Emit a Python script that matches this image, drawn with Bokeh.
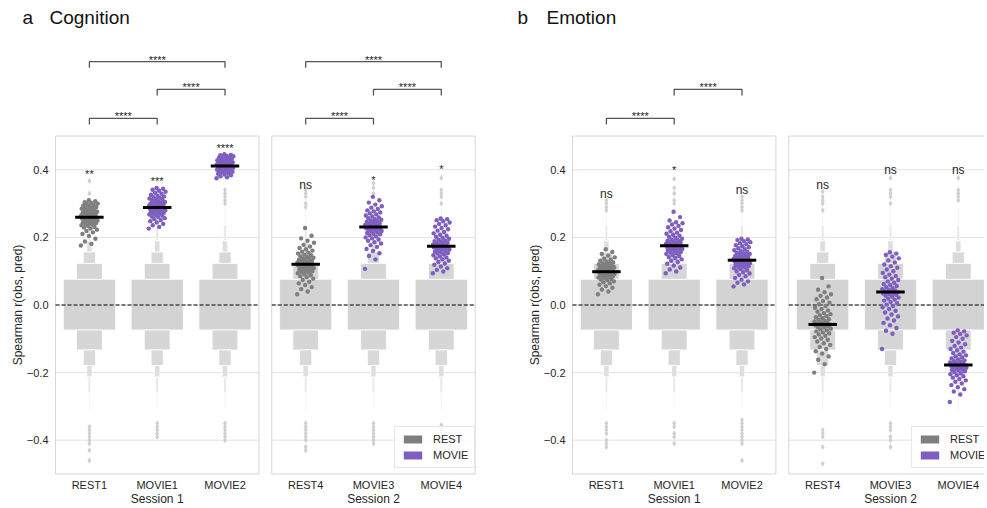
import numpy as np
from bokeh.plotting import figure
from bokeh.models import Range1d, Legend, LegendItem
from bokeh.layouts import row
from bokeh.embed import file_html
from bokeh.resources import INLINE
from bokeh.core.properties import value

# ---------------- data ----------------
session1_labels = ["REST1", "MOVIE1", "MOVIE2"]
session2_labels = ["REST4", "MOVIE3", "MOVIE4"]
condition_kind = ["REST", "MOVIE", "MOVIE", "REST", "MOVIE", "MOVIE"]
session_names = ["Session 1", "Session 2"]
y_ticks = [-0.4, -0.2, 0.0, 0.2, 0.4]
y_tick_labels = ["\u22120.4", "\u22120.2", "0.0", "0.2", "0.4"]

# Cognition: observed Spearman r per subject
cog_rest1 = [0.176, 0.181, 0.188, 0.196, 0.204, 0.21, 0.215, 0.219, 0.223, 0.226, 0.229, 0.231, 0.234, 0.236,
             0.238, 0.24, 0.242, 0.244, 0.245, 0.247, 0.248, 0.25, 0.251, 0.252, 0.254, 0.255, 0.256, 0.257,
             0.258, 0.259, 0.26, 0.261, 0.262, 0.264, 0.265, 0.266, 0.268, 0.269, 0.27, 0.272, 0.273, 0.275,
             0.276, 0.278, 0.28, 0.281, 0.283, 0.285, 0.287, 0.288, 0.29, 0.292, 0.294, 0.296, 0.298, 0.3,
             0.302, 0.304, 0.307, 0.31]
cog_movie1 = [0.226, 0.231, 0.236, 0.24, 0.244, 0.248, 0.251, 0.254, 0.257, 0.26, 0.262, 0.264, 0.266, 0.268,
              0.27, 0.272, 0.273, 0.275, 0.276, 0.278, 0.279, 0.28, 0.281, 0.282, 0.283, 0.284, 0.285, 0.286,
              0.287, 0.288, 0.289, 0.29, 0.291, 0.292, 0.293, 0.295, 0.296, 0.297, 0.299, 0.3, 0.302, 0.303,
              0.305, 0.307, 0.309, 0.311, 0.313, 0.315, 0.317, 0.319, 0.321, 0.323, 0.326, 0.329, 0.332, 0.335,
              0.338, 0.341, 0.344, 0.346]
cog_movie2 = [0.375, 0.378, 0.381, 0.384, 0.386, 0.388, 0.39, 0.392, 0.394, 0.395, 0.396, 0.398, 0.399, 0.4,
              0.401, 0.402, 0.403, 0.404, 0.404, 0.405, 0.406, 0.406, 0.407, 0.408, 0.408, 0.409, 0.41, 0.41,
              0.411, 0.411, 0.412, 0.413, 0.413, 0.414, 0.415, 0.415, 0.416, 0.417, 0.418, 0.419, 0.42, 0.421,
              0.422, 0.423, 0.424, 0.425, 0.426, 0.428, 0.429, 0.43, 0.432, 0.433, 0.435, 0.436, 0.438, 0.44,
              0.441, 0.443, 0.444, 0.446]
cog_rest4 = [0.032, 0.04, 0.047, 0.053, 0.059, 0.064, 0.069, 0.074, 0.078, 0.082, 0.085, 0.088, 0.091, 0.094,
             0.096, 0.098, 0.1, 0.102, 0.104, 0.106, 0.108, 0.109, 0.111, 0.112, 0.114, 0.115, 0.116, 0.117,
             0.119, 0.12, 0.121, 0.122, 0.124, 0.125, 0.126, 0.128, 0.129, 0.131, 0.133, 0.134, 0.136, 0.138,
             0.14, 0.142, 0.144, 0.147, 0.149, 0.152, 0.155, 0.158, 0.161, 0.165, 0.169, 0.173, 0.178, 0.184,
             0.19, 0.197, 0.205, 0.228]
cog_movie3 = [0.107, 0.135, 0.145, 0.153, 0.16, 0.166, 0.172, 0.177, 0.182, 0.186, 0.19, 0.194, 0.197, 0.2,
              0.203, 0.206, 0.209, 0.211, 0.213, 0.215, 0.217, 0.219, 0.221, 0.223, 0.224, 0.226, 0.227, 0.228,
              0.229, 0.23, 0.231, 0.232, 0.234, 0.235, 0.237, 0.238, 0.24, 0.242, 0.244, 0.246, 0.248, 0.25,
              0.252, 0.254, 0.257, 0.259, 0.262, 0.265, 0.268, 0.271, 0.274, 0.277, 0.28, 0.284, 0.288, 0.292,
              0.297, 0.303, 0.31, 0.32]
cog_movie4 = [0.094, 0.099, 0.104, 0.109, 0.114, 0.119, 0.123, 0.127, 0.131, 0.135, 0.138, 0.141, 0.144, 0.147,
              0.15, 0.152, 0.154, 0.156, 0.158, 0.16, 0.162, 0.164, 0.166, 0.167, 0.168, 0.169, 0.17, 0.171,
              0.172, 0.173, 0.174, 0.175, 0.176, 0.178, 0.179, 0.181, 0.183, 0.185, 0.187, 0.189, 0.191, 0.193,
              0.196, 0.199, 0.202, 0.205, 0.208, 0.212, 0.216, 0.22, 0.224, 0.228, 0.232, 0.236, 0.24, 0.244,
              0.248, 0.251, 0.254, 0.256]

# Emotion: observed Spearman r per subject
emo_rest1 = [0.032, 0.04, 0.046, 0.051, 0.056, 0.06, 0.064, 0.067, 0.07, 0.073, 0.075, 0.077, 0.079, 0.081,
             0.083, 0.085, 0.086, 0.087, 0.089, 0.09, 0.091, 0.092, 0.093, 0.094, 0.095, 0.096, 0.097, 0.097,
             0.098, 0.098, 0.099, 0.1, 0.101, 0.102, 0.103, 0.104, 0.105, 0.106, 0.107, 0.108, 0.11, 0.111,
             0.112, 0.114, 0.115, 0.117, 0.118, 0.12, 0.122, 0.124, 0.126, 0.128, 0.131, 0.134, 0.137, 0.141,
             0.146, 0.151, 0.157, 0.165]
emo_movie1 = [0.094, 0.099, 0.105, 0.111, 0.117, 0.122, 0.127, 0.131, 0.135, 0.139, 0.142, 0.145, 0.148, 0.151,
              0.153, 0.155, 0.157, 0.159, 0.161, 0.163, 0.165, 0.166, 0.168, 0.169, 0.17, 0.171, 0.172, 0.173,
              0.174, 0.175, 0.176, 0.177, 0.178, 0.18, 0.181, 0.183, 0.184, 0.186, 0.188, 0.19, 0.192, 0.194,
              0.196, 0.199, 0.202, 0.205, 0.208, 0.211, 0.214, 0.218, 0.222, 0.226, 0.23, 0.234, 0.238, 0.242,
              0.245, 0.25, 0.26, 0.276]
emo_movie2 = [0.055, 0.061, 0.066, 0.07, 0.075, 0.08, 0.085, 0.089, 0.093, 0.097, 0.1, 0.103, 0.106, 0.109,
              0.111, 0.113, 0.115, 0.117, 0.119, 0.121, 0.122, 0.124, 0.125, 0.126, 0.127, 0.128, 0.129, 0.13,
              0.131, 0.132, 0.133, 0.134, 0.135, 0.136, 0.137, 0.139, 0.14, 0.142, 0.143, 0.145, 0.147, 0.149,
              0.151, 0.153, 0.155, 0.157, 0.159, 0.162, 0.165, 0.168, 0.171, 0.174, 0.177, 0.18, 0.183, 0.186,
              0.189, 0.192, 0.194, 0.196]
emo_rest4 = [-0.2, -0.175, -0.162, -0.152, -0.144, -0.137, -0.13, -0.124, -0.118, -0.113, -0.108, -0.103,
             -0.099, -0.095, -0.091, -0.087, -0.084, -0.081, -0.078, -0.075, -0.072, -0.07, -0.067, -0.065,
             -0.063, -0.061, -0.06, -0.059, -0.058, -0.058, -0.057, -0.055, -0.053, -0.051, -0.049, -0.047,
             -0.044, -0.042, -0.039, -0.036, -0.033, -0.03, -0.027, -0.024, -0.02, -0.016, -0.012, -0.008,
             -0.003, 0.002, 0.007, 0.012, 0.017, 0.022, 0.027, 0.032, 0.038, 0.045, 0.055, 0.08]
emo_movie3 = [-0.13, -0.085, -0.076, -0.068, -0.06, -0.053, -0.046, -0.04, -0.034, -0.028, -0.022, -0.017,
              -0.012, -0.007, -0.003, 0.001, 0.005, 0.009, 0.013, 0.016, 0.019, 0.022, 0.025, 0.028, 0.03,
              0.032, 0.034, 0.036, 0.037, 0.038, 0.039, 0.041, 0.043, 0.045, 0.047, 0.05, 0.053, 0.056, 0.059,
              0.062, 0.066, 0.07, 0.074, 0.078, 0.082, 0.086, 0.09, 0.095, 0.1, 0.105, 0.11, 0.115, 0.12,
              0.126, 0.132, 0.138, 0.143, 0.148, 0.152, 0.156]
emo_movie4 = [-0.287, -0.265, -0.256, -0.249, -0.243, -0.237, -0.232, -0.227, -0.223, -0.219, -0.215, -0.211,
              -0.208, -0.205, -0.202, -0.199, -0.196, -0.194, -0.192, -0.19, -0.188, -0.186, -0.184, -0.183,
              -0.182, -0.181, -0.18, -0.179, -0.178, -0.178, -0.177, -0.176, -0.174, -0.172, -0.17, -0.168,
              -0.166, -0.164, -0.161, -0.158, -0.155, -0.152, -0.149, -0.146, -0.142, -0.138, -0.134, -0.13,
              -0.126, -0.121, -0.116, -0.111, -0.106, -0.1, -0.095, -0.09, -0.086, -0.082, -0.078, -0.075]

# Null distribution (permutation) letter-value boundaries, shared by all conditions
boxen_upper = [0.076, 0.123, 0.157, 0.19, 0.235, 0.29]
boxen_lower = [-0.074, -0.133, -0.179, -0.213, -0.26, -0.31]

# Null distribution outliers per condition
cog_rest1_out = [0.367, 0.33, 0.31, -0.36, -0.37, -0.38, -0.39, -0.40, -0.41, -0.43, -0.46]
cog_movie1_out = [0.33, 0.31, -0.35, -0.36, -0.37, -0.38, -0.39]
cog_movie2_out = [0.34, 0.33, 0.32, 0.31, 0.30, -0.35, -0.36, -0.37, -0.38, -0.39, -0.40]
cog_rest4_out = [0.34, 0.33, 0.32, 0.30, 0.29, -0.35, -0.36, -0.37, -0.38, -0.39, -0.40, -0.42, -0.43]
cog_movie3_out = [0.36, 0.347, 0.33, -0.35, -0.36, -0.37, -0.38, -0.39, -0.40, -0.41]
cog_movie4_out = [0.376, 0.34, 0.33, 0.32, 0.30, -0.355, -0.37]
emo_rest1_out = [0.31, 0.30, 0.29, 0.28, -0.35, -0.36, -0.37, -0.38, -0.40, -0.41, -0.42]
emo_movie1_out = [0.373, 0.346, 0.33, 0.31, 0.30, -0.35, -0.36, -0.38, -0.39, -0.41]
emo_movie2_out = [0.32, 0.31, 0.30, 0.29, 0.28, -0.34, -0.35, -0.36, -0.37, -0.38, -0.39, -0.40, -0.41, -0.46]
emo_rest4_out = [0.336, 0.32, 0.31, 0.30, 0.28, -0.37, -0.38, -0.39, -0.42, -0.47]
emo_movie3_out = [0.376, 0.34, 0.33, 0.32, 0.30, -0.35, -0.36, -0.37, -0.39, -0.40, -0.42]
emo_movie4_out = [0.376, 0.34, 0.33, 0.32, 0.31, -0.39]

cog_sig = ["**", "***", "****", "ns", "*", "*"]
emo_sig = ["ns", "*", "ns", "ns", "ns", "ns"]
cog_sig_y = [0.409, 0.388, 0.484, 0.365, 0.39, 0.423]
emo_sig_y = [0.338, 0.418, 0.35, 0.365, 0.407, 0.407]

# pairwise comparisons: (condition a, condition b, stack level, label)
cog_pairs = [(0, 2, 2, "****"), (1, 2, 1, "****"), (0, 1, 0, "****"),
             (3, 5, 2, "****"), (4, 5, 1, "****"), (3, 4, 0, "****")]
emo_pairs = [(1, 2, 1, "****"), (0, 1, 0, "****")]

# ---------------- style / layout ----------------
FONT = "Liberation Sans"
TEXT = "#262626"
GRAY = "#7f7f7f"
PURPLE = "#7e5fc0"
KIND_COLOR = {"REST": GRAY, "MOVIE": PURPLE}
LEVEL_W = [0.77, 0.38, 0.18, 0.08, 0.04, 0.02]
LEVEL_C = ["#d3d3d3", "#d6d6d6", "#d9d9d9", "#dedede", "#e7e7e7", "#efefef"]
X_POS = [0.0, 1.0, 2.0, 3.19, 4.19, 5.19]
SUBPLOTS = [(-0.5, 2.5), (2.69, 5.69)]
BRACKET_Y = [0.552, 0.638, 0.720]
PAGE_Y0 = 1        # page y of the canvas top
H = 506            # canvas height
ZERO_PAGE_Y = 305.5  # page y of r = 0
PX_Y = 338.0       # pixels per unit r
PX_X = 67.8        # pixels per category step
LEGEND_BOTTOM = 469


def make_panel(groups, outs, sig, sig_y, pairs, canvas_left, canvas_w, frame_left,
               letter, word, letter_px, word_px, ylab_px, legend_x):
    def X(page_x):
        return -0.5 + (page_x - frame_left) / PX_X

    def Y(page_y):
        return (ZERO_PAGE_Y - page_y) / PX_Y

    p = figure(x_range=Range1d(X(canvas_left), X(canvas_left + canvas_w)),
               y_range=Range1d(Y(PAGE_Y0 + H), Y(PAGE_Y0)),
               width=canvas_w, height=H, min_border=0,
               min_border_left=0, min_border_right=0, min_border_top=0, min_border_bottom=0,
               output_backend="svg", toolbar_location=None)
    p.xaxis.visible = False
    p.yaxis.visible = False
    p.xgrid.visible = False
    p.ygrid.visible = False
    p.outline_line_color = None
    p.background_fill_color = "white"
    p.border_fill_color = "white"

    # subplot grid lines
    gx0, gx1, gy = [], [], []
    for (a, b) in SUBPLOTS:
        for t in y_ticks:
            gx0.append(a); gx1.append(b); gy.append(t)
    p.segment(x0=gx0, x1=gx1, y0=gy, y1=gy, line_color="#e3e3e3", line_width=1)

    # boxen (null distributions)
    L, R, B, T, C = [], [], [], [], []
    for x in X_POS:
        for k in range(len(LEVEL_W)):
            w = LEVEL_W[k] / 2
            if k == 0:
                L.append(x - w); R.append(x + w); B.append(boxen_lower[0]); T.append(boxen_upper[0]); C.append(LEVEL_C[0])
            else:
                L.append(x - w); R.append(x + w); B.append(boxen_upper[k - 1]); T.append(boxen_upper[k]); C.append(LEVEL_C[k])
                L.append(x - w); R.append(x + w); B.append(boxen_lower[k]); T.append(boxen_lower[k - 1]); C.append(LEVEL_C[k])
    p.quad(left=L, right=R, bottom=B, top=T, fill_color=C, line_color="white", line_width=0.8)

    # outliers of null distributions
    ox, oy = [], []
    for x, o in zip(X_POS, outs):
        ox += [x] * len(o); oy += o
    p.scatter(ox, oy, marker="diamond", size=6, fill_color="#d0d0d0", line_color=None)

    # subplot frames
    for (a, b) in SUBPLOTS:
        p.quad(left=[a], right=[b], bottom=[-0.5], top=[0.5], fill_color=None,
               line_color="#d6d6d6", line_width=1)

    # zero line
    for (a, b) in SUBPLOTS:
        p.line([a, b], [0, 0], line_color="black", line_dash="4 2", line_width=1.2)

    # observed points and medians
    for x, vals, kind in zip(X_POS, groups, condition_kind):
        v = np.asarray(vals)
        n = len(v)
        jit = ((np.arange(n) * 0.6180339887) % 1 - 0.5) * 0.25
        p.scatter(x + jit, v, size=4.4, fill_color=KIND_COLOR[kind], line_color=None)
        m = float(np.median(v))
        p.segment(x0=[x - 0.21], x1=[x + 0.21], y0=[m], y1=[m], line_color="black",
                  line_width=3, line_cap="butt")

    # significance versus null
    for x, s, yc in zip(X_POS, sig, sig_y):
        star = "*" in s
        yb = yc - (0.02 if star else 0.009)
        p.text([x], [yb], text=[s], text_font=value(FONT),
               text_font_size="11px" if star else "12px", text_color=TEXT,
               text_align="center", text_baseline="alphabetic")

    # pairwise comparison brackets
    for (i, j, lev, lab) in pairs:
        yb = BRACKET_Y[lev]
        p.line([X_POS[i], X_POS[i], X_POS[j], X_POS[j]], [yb - 0.018, yb, yb, yb - 0.018],
               line_color="#555555", line_width=1.3)
        p.text([(X_POS[i] + X_POS[j]) / 2], [yb + 0.006], text=[lab], text_font=value(FONT),
               text_font_size="11px", text_color=TEXT, text_align="center",
               text_baseline="alphabetic")

    # y tick labels
    p.text([X(frame_left - 7)] * len(y_ticks), y_ticks, text=y_tick_labels, text_font=value(FONT),
           text_font_size="11px", text_color=TEXT, text_align="right", text_baseline="middle")
    # x tick labels
    p.text(X_POS, [Y(485)] * 6, text=session1_labels + session2_labels,
           text_font=value(FONT), text_font_size="11px", text_color=TEXT,
           text_align="center", text_baseline="middle")
    # session labels
    p.text([X_POS[1], X_POS[4]], [Y(499)] * 2, text=session_names,
           text_font=value(FONT), text_font_size="12px", text_color=TEXT,
           text_align="center", text_baseline="middle")
    # y axis label
    p.text([X(ylab_px)], [0.0], text=["Spearman r(obs, pred)"], angle=np.pi / 2,
           text_font=value(FONT), text_font_size="12px", text_color=TEXT,
           text_align="center", text_baseline="middle")
    # panel titles
    p.text([X(letter_px), X(word_px)], [Y(18)] * 2, text=[letter, word], text_font=value(FONT),
           text_font_size="19px", text_color="#111111", text_align="left", text_baseline="middle")

    # legend
    r_rest = p.quad(left=[100], right=[101], top=[100], bottom=[99], fill_color=GRAY, line_color=None)
    r_movie = p.quad(left=[100], right=[101], top=[100], bottom=[99], fill_color=PURPLE, line_color=None)
    leg = Legend(items=[LegendItem(label="REST", renderers=[r_rest]),
                        LegendItem(label="MOVIE", renderers=[r_movie])],
                 location=(legend_x - canvas_left, PAGE_Y0 + H - LEGEND_BOTTOM))
    leg.label_text_font = FONT
    leg.label_text_font_size = "11px"
    leg.label_text_color = TEXT
    leg.glyph_width = 23
    leg.glyph_height = 10
    leg.label_standoff = 9
    leg.label_height = 12
    leg.spacing = 4
    leg.padding = 6
    leg.margin = 0
    leg.border_line_color = "#d0d0d0"
    leg.background_fill_alpha = 0.85
    p.add_layout(leg)
    return p


pa = make_panel([cog_rest1, cog_movie1, cog_movie2, cog_rest4, cog_movie3, cog_movie4],
                [cog_rest1_out, cog_movie1_out, cog_movie2_out, cog_rest4_out, cog_movie3_out, cog_movie4_out],
                cog_sig, cog_sig_y, cog_pairs, 1, 490, 56, "a", "Cognition", 23, 50, 18, 395)
pb = make_panel([emo_rest1, emo_movie1, emo_movie2, emo_rest4, emo_movie3, emo_movie4],
                [emo_rest1_out, emo_movie1_out, emo_movie2_out, emo_rest4_out, emo_movie3_out, emo_movie4_out],
                emo_sig, emo_sig_y, emo_pairs, 491, 494, 573, "b", "Emotion", 518, 547, 535, 912)

layout = row(pa, pb)
open("out.html", "w").write(file_html(layout, INLINE))
